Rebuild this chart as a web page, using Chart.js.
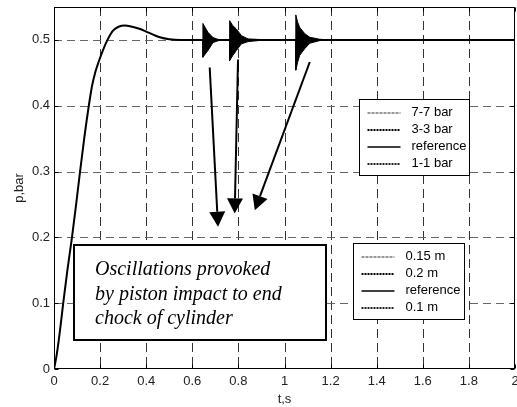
<!DOCTYPE html>
<html>
<head>
<meta charset="utf-8">
<script src="https://cdn.jsdelivr.net/npm/chart.js@4.4.0/dist/chart.umd.min.js"></script>
<style>
  html, body { margin: 0; padding: 0; background: #fff; }
  #wrap { width: 517px; height: 407px; }
</style>
</head>
<body>
<div id="wrap"><canvas id="chart" width="517" height="407"></canvas></div>
<script>
// pressure step response
const respT = [0, 0.01, 0.02, 0.03, 0.04, 0.058, 0.078, 0.096, 0.113, 0.131, 0.151, 0.165, 0.18, 0.195, 0.213, 0.232,
  0.256, 0.28, 0.307, 0.34, 0.37, 0.398, 0.43, 0.459, 0.5, 0.55, 2];
const respP = [0, 0.018, 0.042, 0.07, 0.1, 0.15, 0.2, 0.25, 0.3, 0.35, 0.4, 0.43, 0.452, 0.468, 0.485, 0.5,
  0.514, 0.52, 0.522, 0.52, 0.517, 0.513, 0.508, 0.504, 0.501, 0.5, 0.5];

// oscillation bursts (upper / lower envelope)
const burst1T  = [0.6455, 0.646, 0.657, 0.668, 0.69, 0.71, 0.73];
const burst1Hi = [0.5, 0.525, 0.518, 0.5115, 0.5035, 0.501, 0.5];
const burst1Lo = [0.5, 0.4736, 0.479, 0.484, 0.496, 0.4985, 0.5];

const burst2T  = [0.7615, 0.762, 0.775, 0.791, 0.813, 0.842, 0.9, 0.958];
const burst2Hi = [0.5, 0.5292, 0.522, 0.5167, 0.5065, 0.5015, 0.5005, 0.5];
const burst2Lo = [0.5, 0.4686, 0.476, 0.4838, 0.494, 0.4974, 0.4995, 0.5];

const burst3T  = [1.0485, 1.049, 1.057, 1.066, 1.088, 1.11, 1.153, 1.196];
const burst3Hi = [0.5, 0.538, 0.527, 0.519, 0.5095, 0.504, 0.501, 0.5];
const burst3Lo = [0.5, 0.454, 0.466, 0.4767, 0.4868, 0.495, 0.499, 0.5];

const xTicks = [0, 0.2, 0.4, 0.6, 0.8, 1, 1.2, 1.4, 1.6, 1.8, 2];
const xTickLabels = ['0', '0.2', '0.4', '0.6', '0.8', '1', '1.2', '1.4', '1.6', '1.8', '2'];
const yTicks = [0, 0.1, 0.2, 0.3, 0.4, 0.5];
const yTickLabels = ['0', '0.1', '0.2', '0.3', '0.4', '0.5'];

const pressureLegend = ['7-7 bar', '3-3 bar', 'reference', '1-1 bar'];
const strokeLegend = ['0.15 m', '0.2 m', 'reference', '0.1 m'];
const noteLines = ['Oscillations provoked', 'by piston impact to end', 'chock of cylinder'];

// arrows: [t start, p start, t tip, p tip]
const arrows = [
  [0.6755, 0.458, 0.7116, 0.2161],
  [0.7983, 0.4701, 0.7839, 0.2364],
  [1.1097, 0.4664, 0.8711, 0.2412]
];

const pts = (ts, ps) => ts.map((t, i) => ({ x: t, y: ps[i] }));

const burstSets = [[burst1T, burst1Hi, burst1Lo], [burst2T, burst2Hi, burst2Lo], [burst3T, burst3Hi, burst3Lo]];
const datasets = [{
  data: pts(respT, respP),
  borderColor: '#000',
  borderWidth: 2,
  pointRadius: 0,
  cubicInterpolationMode: 'monotone',
  fill: false
}];
burstSets.forEach(([t, hi, lo]) => {
  datasets.push({ data: pts(t, hi), borderColor: '#000', borderWidth: 1, pointRadius: 0, fill: false });
  datasets.push({ data: pts(t, lo), borderColor: '#000', borderWidth: 1, pointRadius: 0, fill: '-1', backgroundColor: '#000' });
});

const legendStyles = [
  { color: '#999', width: 2, dash: [3, 1] },
  { color: '#000', width: 2, dash: [2, 1] },
  { color: '#000', width: 1.5, dash: [] },
  { color: '#222', width: 2, dash: [2, 1] }
];

function drawLegend(ctx, x, y, t0, p0, t1, p1, labels) {
  const l = Math.round(x.getPixelForValue(t0)) + 0.5;
  const r = Math.round(x.getPixelForValue(t1)) + 0.5;
  const tp = Math.round(y.getPixelForValue(p0)) + 0.5;
  const bt = Math.round(y.getPixelForValue(p1)) + 0.5;
  ctx.fillStyle = '#fff';
  ctx.fillRect(l, tp, r - l, bt - tp);
  ctx.setLineDash([]);
  ctx.lineWidth = 1;
  ctx.strokeStyle = '#000';
  ctx.strokeRect(l, tp, r - l, bt - tp);
  ctx.font = '13px Arial, "Liberation Sans", sans-serif';
  ctx.textBaseline = 'middle';
  ctx.textAlign = 'left';
  labels.forEach((lab, i) => {
    const cy = tp + 13 + i * 17;
    const st = legendStyles[i];
    ctx.beginPath();
    ctx.setLineDash(st.dash);
    ctx.lineWidth = st.width;
    ctx.strokeStyle = st.color;
    ctx.moveTo(l + 8, Math.round(cy));
    ctx.lineTo(l + 41, Math.round(cy));
    ctx.stroke();
    ctx.fillStyle = '#000';
    ctx.fillText(lab, l + 52, cy);
  });
  ctx.setLineDash([]);
}

const decor = {
  id: 'decor',
  beforeDatasetsDraw(chart) {
    const { ctx, chartArea: a, scales: { x, y } } = chart;
    ctx.save();
    ctx.lineWidth = 1;
    // vertical grid
    ctx.strokeStyle = '#333';
    ctx.setLineDash([9, 5]);
    x.ticks.slice(1, -1).forEach(tk => {
      const px = Math.round(x.getPixelForValue(tk.value)) + 0.5;
      ctx.beginPath(); ctx.moveTo(px, a.top); ctx.lineTo(px, a.bottom); ctx.stroke();
    });
    // horizontal grid
    ctx.strokeStyle = '#666';
    ctx.setLineDash([8, 5]);
    y.ticks.slice(1).forEach(tk => {
      const py = Math.round(y.getPixelForValue(tk.value)) + 0.5;
      ctx.beginPath(); ctx.moveTo(a.left, py); ctx.lineTo(a.right, py); ctx.stroke();
    });
    ctx.restore();
  },
  afterDatasetsDraw(chart) {
    const { ctx, chartArea: a, scales: { x, y } } = chart;
    ctx.save();
    // frame and inner ticks
    ctx.setLineDash([]);
    ctx.strokeStyle = '#000';
    ctx.lineWidth = 1;
    const L = Math.round(a.left) + 0.5, R = Math.round(a.right) - 0.5;
    const T = Math.round(a.top) + 0.5, B = Math.round(a.bottom) - 0.5;
    ctx.strokeRect(L, T, R - L, B - T);
    ctx.beginPath();
    x.ticks.forEach(tk => {
      const px = Math.round(x.getPixelForValue(tk.value)) + 0.5;
      ctx.moveTo(px, B); ctx.lineTo(px, B - 4);
      ctx.moveTo(px, T); ctx.lineTo(px, T + 4);
    });
    y.ticks.forEach(tk => {
      const py = Math.round(y.getPixelForValue(tk.value)) + 0.5;
      ctx.moveTo(L, py); ctx.lineTo(L + 4, py);
      ctx.moveTo(R, py); ctx.lineTo(R - 4, py);
    });
    ctx.stroke();

    // note box
    const nl = Math.round(x.getPixelForValue(0.088));
    const nr = Math.round(x.getPixelForValue(1.179));
    const nt = Math.round(y.getPixelForValue(0.188));
    const nb = Math.round(y.getPixelForValue(0.044));
    ctx.fillStyle = '#fff';
    ctx.fillRect(nl, nt, nr - nl, nb - nt);
    ctx.lineWidth = 2;
    ctx.strokeRect(nl, nt, nr - nl, nb - nt);
    ctx.fillStyle = '#000';
    ctx.font = 'italic 20px "Times New Roman", "Liberation Serif", serif';
    ctx.textBaseline = 'alphabetic';
    ctx.textAlign = 'left';
    noteLines.forEach((ln, i) => ctx.fillText(ln, nl + 21, nt + 30 + i * 24.5));

    drawLegend(ctx, x, y, 1.322, 0.4095, 1.800, 0.2944, pressureLegend);
    drawLegend(ctx, x, y, 1.297, 0.1909, 1.777, 0.0762, strokeLegend);

    // arrows
    arrows.forEach(([t0, p0, t1, p1]) => {
      const x0 = x.getPixelForValue(t0), y0 = y.getPixelForValue(p0);
      const x1 = x.getPixelForValue(t1), y1 = y.getPixelForValue(p1);
      const ang = Math.atan2(y1 - y0, x1 - x0);
      const hl = 15, hw = 8;
      const bx = x1 - hl * Math.cos(ang), by = y1 - hl * Math.sin(ang);
      ctx.strokeStyle = '#000';
      ctx.lineWidth = 2;
      ctx.beginPath(); ctx.moveTo(x0, y0); ctx.lineTo(bx, by); ctx.stroke();
      ctx.fillStyle = '#000';
      ctx.beginPath();
      ctx.moveTo(x1, y1);
      ctx.lineTo(bx + hw * Math.sin(ang), by - hw * Math.cos(ang));
      ctx.lineTo(bx - hw * Math.sin(ang), by + hw * Math.cos(ang));
      ctx.closePath();
      ctx.fill();
    });
    ctx.restore();
  }
};

const tickFont = { family: 'Arial, "Liberation Sans", sans-serif', size: 13 };

new Chart(document.getElementById('chart'), {
  type: 'line',
  data: { datasets },
  options: {
    responsive: false,
    animation: false,
    layout: { padding: { left: 0, right: 2, top: 7, bottom: 0 } },
    plugins: { legend: { display: false }, tooltip: { enabled: false } },
    elements: { line: { tension: 0 } },
    scales: {
      x: {
        type: 'linear',
        min: 0,
        max: 2,
        afterBuildTicks: s => { s.ticks = xTicks.map(v => ({ value: v })); },
        afterFit: s => { s.height = 38; s.paddingLeft = 0; s.paddingRight = 0; },
        grid: { display: false, drawTicks: false },
        border: { display: false },
        ticks: { font: tickFont, color: '#222', padding: 5, maxRotation: 0, autoSkip: false,
          callback: (v, i) => xTickLabels[i] },
        title: { display: true, text: 't,s', font: tickFont, color: '#222', padding: { top: 0, bottom: 0 } }
      },
      y: {
        type: 'linear',
        min: 0,
        max: 0.55,
        afterBuildTicks: s => { s.ticks = yTicks.map(v => ({ value: v })); },
        afterFit: s => { s.width = 54; s.paddingTop = 0; s.paddingBottom = 0; },
        grid: { display: false, drawTicks: false },
        border: { display: false },
        ticks: { font: tickFont, color: '#222', padding: 4, autoSkip: false,
          callback: (v, i) => yTickLabels[i] },
        title: { display: true, text: 'p,bar', font: tickFont, color: '#222', padding: { top: 12, bottom: 0 } }
      }
    }
  },
  plugins: [decor]
});
</script>
</body>
</html>
